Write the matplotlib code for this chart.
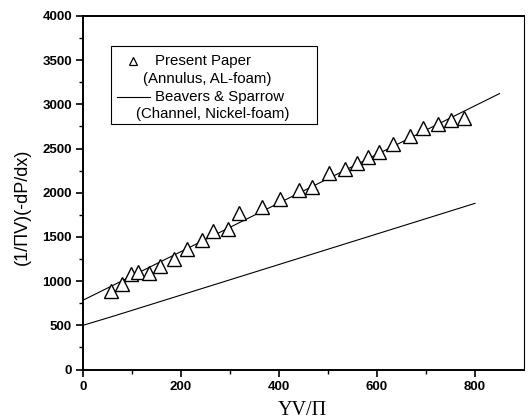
import matplotlib
matplotlib.use("Agg")
import matplotlib.pyplot as plt
from matplotlib.lines import Line2D
from matplotlib.patches import Rectangle
import numpy as np

# Present paper data
present_x = [57, 79, 98, 113, 135, 157, 186, 212, 242, 266, 296, 318, 366,
             403, 440, 467, 503, 535, 559, 582, 605, 632, 667, 694, 725, 752, 777]
present_y = [885, 965, 1086, 1104, 1093, 1168, 1251, 1364, 1463, 1564, 1587, 1771, 1835,
             1930, 2036, 2066, 2224, 2273, 2337, 2405, 2458, 2549, 2639, 2738, 2783, 2820, 2851]

# Fit line through present data
fit_x = [0, 850]
fit_y = [784, 3122]

# Beavers & Sparrow correlation
bs_x = [0, 60, 800]
bs_y = [500, 600, 1880]

xticks = [0, 200, 400, 600, 800]
yticks = [0, 500, 1000, 1500, 2000, 2500, 3000, 3500, 4000]

legend_labels = ['Present Paper', '(Annulus, AL-foam)',
                 'Beavers & Sparrow', '(Channel, Nickel-foam)']

plt.rcParams['font.family'] = ['Liberation Sans', 'DejaVu Sans']

W, H = 528, 420
fig = plt.figure(figsize=(W / 100, H / 100), dpi=100)
ax = fig.add_axes([83 / W, 1 - 369.5 / H, (524 - 83) / W, (369.5 - 16) / H])

ax.plot(fit_x, fit_y, color='black', lw=0.8)
ax.plot(bs_x, bs_y, color='black', lw=0.8)
ax.plot(present_x, present_y, linestyle='none', marker='^', markersize=10,
        markerfacecolor='white', markeredgecolor='black', markeredgewidth=1.0)

ax.set_xlim(0, 900)
ax.set_ylim(0, 4000)
ax.set_xticks(xticks)
ax.set_yticks(yticks)
ax.set_xticks([100, 300, 500, 700], minor=True)
ax.set_yticks(np.arange(250, 4000, 500), minor=True)
ax.tick_params(which='major', direction='out', length=5, width=1.2, labelsize=9.5, pad=3)
ax.tick_params(which='minor', direction='out', length=3, width=1.0)
for lab in ax.get_xticklabels() + ax.get_yticklabels():
    lab.set_fontweight('bold')
for s in ax.spines.values():
    s.set_linewidth(1.4)
ax.spines['right'].set_linewidth(0.8)

# Manual legend (figure pixel coordinates)
def fx(px):
    return px / W

def fy(py):
    return 1 - py / H

fig.add_artist(Rectangle((fx(111), fy(124)), fx(317) - fx(111), fy(46) - fy(124),
                         transform=fig.transFigure, fill=True, facecolor='white',
                         edgecolor='black', lw=0.8))
fig.add_artist(Line2D([fx(133)], [fy(61)], transform=fig.transFigure, marker='^',
                      markersize=5.5, markerfacecolor='white', markeredgecolor='black',
                      markeredgewidth=0.9, linestyle='none'))
fig.add_artist(Line2D([fx(117), fx(150)], [fy(97), fy(97)], transform=fig.transFigure,
                      color='black', lw=0.8))
lfs = 10.8
fig.text(fx(155), fy(61), legend_labels[0], ha='left', va='center', fontsize=lfs)
fig.text(fx(143), fy(78.5), legend_labels[1], ha='left', va='center', fontsize=lfs)
fig.text(fx(155), fy(96.5), legend_labels[2], ha='left', va='center', fontsize=lfs)
fig.text(fx(136), fy(114.5), legend_labels[3], ha='left', va='center', fontsize=lfs)

fig.text(fx(22), fy(207), '(1/ΠV)(-dP/dx)', rotation=90, ha='center', va='center',
         fontsize=13)
fig.text(fx(302), fy(415), 'YV/Π', ha='center', va='baseline', fontsize=14.5,
         family=['Liberation Serif', 'DejaVu Serif'])

fig.savefig('out.png', dpi=100)
